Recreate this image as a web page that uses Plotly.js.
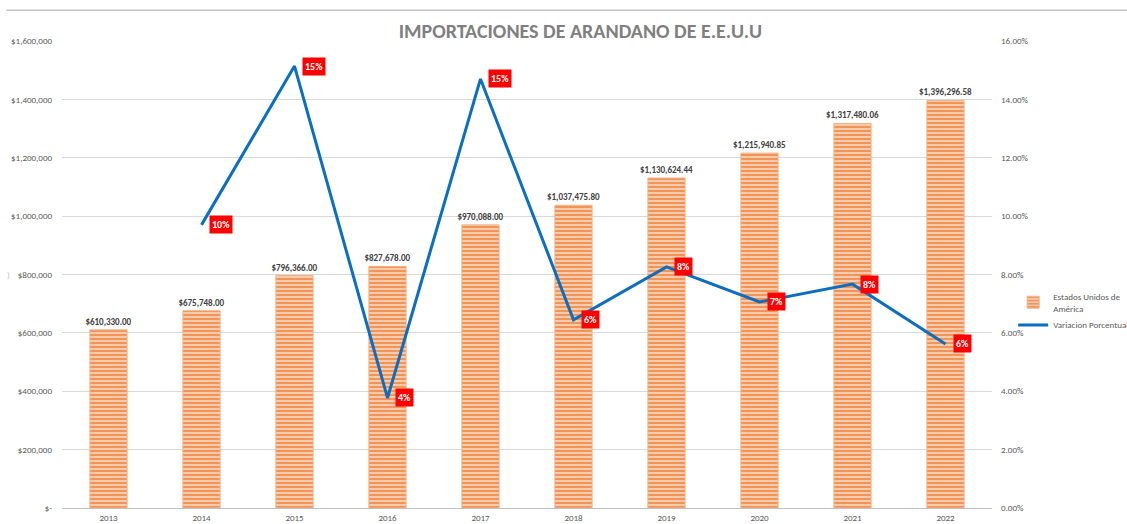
<!DOCTYPE html>
<html>
<head>
<meta charset="utf-8">
<script src="https://cdn.plot.ly/plotly-3.0.1.min.js"></script>
<style>
html,body{margin:0;padding:0;background:#fff;}
#chart{width:1127px;height:524px;}
</style>
</head>
<body>
<div id="chart"></div>
<script>
const years = ["2013","2014","2015","2016","2017","2018","2019","2020","2021","2022"];
const imports = [610330.00, 675748.00, 796366.00, 827678.00, 970088.00, 1037475.80, 1130624.44, 1215940.85, 1317480.06, 1396296.58];
const lineYears = ["2014","2015","2016","2017","2018","2019","2020","2021","2022"];
const variation = [0.0970, 0.1514, 0.0377, 0.1470, 0.0645, 0.0826, 0.0706, 0.0767, 0.0562];
const variationLabels = ["10%","15%","4%","15%","6%","8%","7%","8%","6%"];
const leftTickVals = [0, 200000, 400000, 600000, 800000, 1000000, 1200000, 1400000, 1600000];
const leftTickText = ["$-", "$200,000", "$400,000", "$600,000", "$800,000", "$1,000,000", "$1,200,000", "$1,400,000", "$1,600,000"];
const rightTickVals = [0, 0.02, 0.04, 0.06, 0.08, 0.10, 0.12, 0.14, 0.16];
const rightTickText = ["0.00%", "2.00%", "4.00%", "6.00%", "8.00%", "10.00%", "12.00%", "14.00%", "16.00%"];

const FONT = "Carlito, 'Liberation Sans Narrow', 'Liberation Sans', Arial, sans-serif";

function money(v){
  return "$" + v.toLocaleString("en-US",{minimumFractionDigits:2, maximumFractionDigits:2});
}

const barTrace = {
  type: "bar",
  name: "Estados Unidos de<br>América",
  x: years,
  y: imports,
  text: imports.map(v => "<b>" + money(v) + "</b>"),
  textposition: "outside",
  constraintext: "none",
  cliponaxis: false,
  textfont: {family: FONT, size: 9, color: "#404040"},
  marker: {
    color: "#F8CBAD",
    line: {color: "#F4B183", width: 1},
    pattern: {shape: "-", fgcolor: "#ED7D31", bgcolor: "#F8CBAD", size: 4, solidity: 0.35}
  },
  yaxis: "y",
  hoverinfo: "x+y"
};

const lineTrace = {
  type: "scatter",
  mode: "lines",
  name: "Variacion Porcentual",
  x: lineYears,
  y: variation,
  line: {color: "#0A6FC2", width: 3},
  yaxis: "y2"
};

const annotations = lineYears.map((yr, i) => ({
  xref: "x", yref: "y2",
  x: years.indexOf(yr), y: variation[i],
  text: "<b>" + variationLabels[i] + "</b>",
  showarrow: false,
  xanchor: "left", yanchor: "middle",
  xshift: 7,
  bgcolor: "#FF0000",
  borderpad: 2,
  font: {family: FONT, size: 10, color: "#FFFFFF"}
}));

annotations.push({
  xref: "paper", yref: "paper",
  x: -0.061, y: 0.499,
  text: ")", showarrow: false,
  font: {family: FONT, size: 9, color: "#BFBFBF"}
});

const layout = {
  width: 1127,
  height: 524,
  margin: {l: 62, r: 135, t: 41, b: 16},
  paper_bgcolor: "#FFFFFF",
  plot_bgcolor: "#FFFFFF",
  font: {family: FONT, size: 9, color: "#595959"},
  title: {
    text: "<b>IMPORTACIONES DE ARANDANO DE E.E.U.U</b>",
    x: 0.515, xref: "container", xanchor: "center",
    y: 0.941, yref: "container", yanchor: "middle",
    font: {family: FONT, size: 20, color: "#7F7F7F"}
  },
  bargap: 0.6,
  showlegend: true,
  legend: {
    xref: "container", yref: "container",
    x: 0.899, y: 0.458, xanchor: "left", yanchor: "top",
    font: {family: FONT, size: 9, color: "#595959"},
    bgcolor: "rgba(0,0,0,0)",
    tracegroupgap: 2,
    itemwidth: 30
  },
  xaxis: {
    type: "category",
    categoryorder: "array",
    categoryarray: years,
    range: [-0.5, years.length - 0.5],
    autorange: false,
    showgrid: false,
    showline: true,
    linecolor: "#BFBFBF",
    linewidth: 1,
    ticks: "",
    tickfont: {family: FONT, size: 9, color: "#595959"},
    ticklabelstandoff: 1
  },
  yaxis: {
    range: [0, 1600000],
    tickvals: leftTickVals,
    ticktext: leftTickText,
    showgrid: true,
    gridcolor: "#D9D9D9",
    gridwidth: 1,
    zeroline: false,
    showline: false,
    ticks: "",
    ticklabelstandoff: 9,
    tickfont: {family: FONT, size: 9, color: "#595959"}
  },
  yaxis2: {
    overlaying: "y",
    side: "right",
    range: [0, 0.16],
    tickvals: rightTickVals,
    ticktext: rightTickText,
    showgrid: false,
    zeroline: false,
    showline: false,
    ticks: "",
    ticklabelstandoff: 8,
    tickfont: {family: FONT, size: 9, color: "#595959"}
  },
  annotations: annotations,
  shapes: [{
    type: "line", xref: "paper", yref: "paper",
    x0: -0.06, x1: 1.25, y0: 1.066, y1: 1.066,
    line: {color: "#A6A6A6", width: 1}
  }]
};

Plotly.newPlot("chart", [barTrace, lineTrace], layout, {displayModeBar: false, staticPlot: true});
</script>
</body>
</html>
